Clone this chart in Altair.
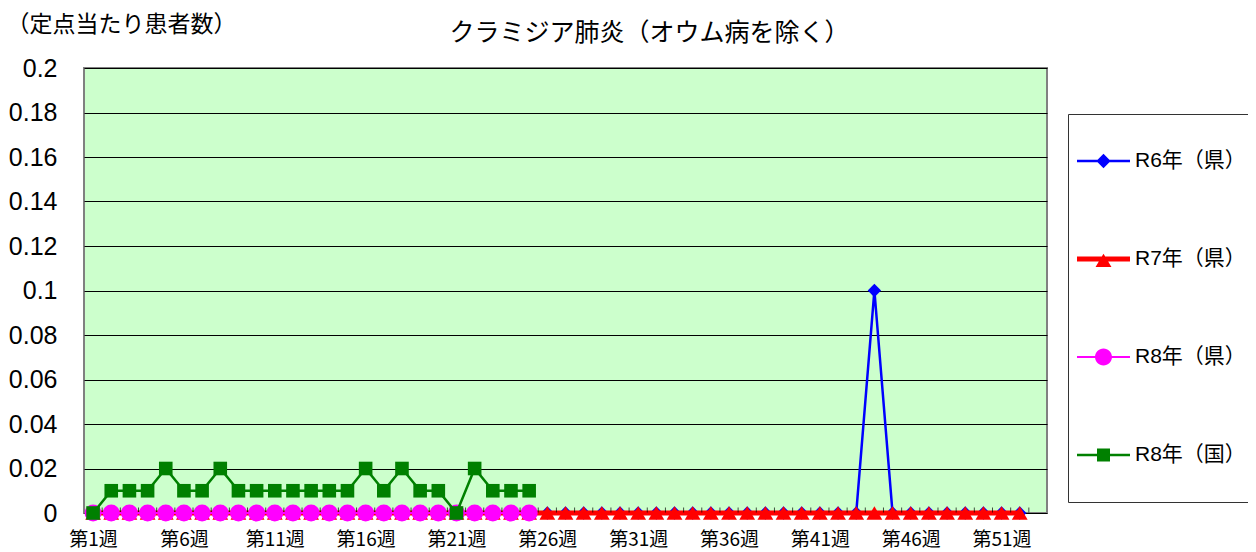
import altair as alt
import pandas as pd

# ---- data ----
weeks = list(range(1, 53))
week_tick_labels = [1, 6, 11, 16, 21, 26, 31, 36, 41, 46, 51]
y_ticks = [0, 0.02, 0.04, 0.06, 0.08, 0.1, 0.12, 0.14, 0.16, 0.18, 0.2]

series_names = ["R6年（県）", "R7年（県）", "R8年（県）", "R8年（国）"]
series_colors = ["#0000FF", "#FF0000", "#FF00FF", "#008000"]

r6_ken = [0, 0, 0, 0, 0, 0, 0, 0, 0, 0,
          0, 0, 0, 0, 0, 0, 0, 0, 0, 0,
          0, 0, 0, 0, 0, 0, 0, 0, 0, 0,
          0, 0, 0, 0, 0, 0, 0, 0, 0, 0,
          0, 0, 0, 0.1, 0, 0, 0, 0, 0, 0,
          0, 0]
r7_ken = [0, 0, 0, 0, 0, 0, 0, 0, 0, 0,
          0, 0, 0, 0, 0, 0, 0, 0, 0, 0,
          0, 0, 0, 0, 0, 0, 0, 0, 0, 0,
          0, 0, 0, 0, 0, 0, 0, 0, 0, 0,
          0, 0, 0, 0, 0, 0, 0, 0, 0, 0,
          0, 0]
r8_ken = [0, 0, 0, 0, 0, 0, 0, 0, 0, 0,
          0, 0, 0, 0, 0, 0, 0, 0, 0, 0,
          0, 0, 0, 0, 0]
r8_kuni = [0, 0.01, 0.01, 0.01, 0.02, 0.01, 0.01, 0.02, 0.01, 0.01,
           0.01, 0.01, 0.01, 0.01, 0.01, 0.02, 0.01, 0.02, 0.01, 0.01,
           0, 0.02, 0.01, 0.01, 0.01]

series_values = [r6_ken, r7_ken, r8_ken, r8_kuni]

rows = []
for name, vals in zip(series_names, series_values):
    for w, v in zip(weeks, vals):
        rows.append({"week": w, "value": v, "series": name})
df = pd.DataFrame(rows)

tick_df = pd.DataFrame({"pos": [w + 0.5 for w in weeks], "zero": [0] * len(weeks)})

# ---- styles ----
marker_shapes = ["diamond", "triangle-up", "circle", "square"]
marker_sizes = [180, 250, 290, 185]
line_widths = [2.5, 5, 2, 2.5]
legend_paths = [
    "M-1,-0.047H1V0.047H-1Z M0,-0.27L0.27,0L0,0.27L-0.27,0Z",
    "M-1,-0.094H1V0.094H-1Z M0,-0.2L0.3,0.3L-0.3,0.3Z",
    "M-1,-0.038H1V0.038H-1Z M-0.32,0A0.32,0.32 0 1,1 0.32,0A0.32,0.32 0 1,1 -0.32,0Z",
    "M-1,-0.047H1V0.047H-1Z M-0.245,-0.245H0.245V0.245H-0.245Z",
]

LATIN = "Liberation Sans, Noto Sans CJK JP"
CJK = "Noto Sans CJK JP"

x_scale = alt.Scale(domain=[0.5, 53.5], nice=False, zero=False)
y_scale = alt.Scale(domain=[0, 0.2], nice=False)

x_enc = alt.X(
    "week:Q",
    scale=x_scale,
    axis=alt.Axis(
        values=week_tick_labels,
        labelExpr="'第' + datum.value + '週'",
        title=None,
        ticks=False,
        domain=False,
        grid=False,
        labelFont=CJK,
        labelFontSize=19,
        labelColor="#000",
        labelBaseline="top",
        labelPadding=17,
        labelFlush=False,
    ),
)
y_enc = alt.Y(
    "value:Q",
    scale=y_scale,
    axis=alt.Axis(
        values=y_ticks,
        format="~g",
        title="（定点当たり患者数）",
        titleAngle=0,
        titleX=-78,
        titleY=-44,
        titleAlign="left",
        titleBaseline="middle",
        titleFont=CJK,
        titleFontSize=23,
        titleFontWeight="normal",
        titleColor="#000",
        titleLimit=300,
        ticks=False,
        domain=False,
        grid=True,
        gridColor="#000",
        gridWidth=1,
        labelFont=LATIN,
        labelFontSize=25,
        labelColor="#000",
        labelPadding=27,
    ),
)

legend_def = alt.Legend(
    title=None,
    orient="none",
    legendX=984,
    legendY=46,
    padding=9,
    strokeColor="#333",
    fillColor="#FFFFFF",
    symbolSize=2809,
    symbolStrokeWidth=0,
    symbolOpacity=1,
    labelFont=LATIN,
    labelFontSize=21,
    labelColor="#000",
    labelOffset=5,
    clipHeight=76,
    rowPadding=22,
)

ticks = alt.Chart(tick_df).mark_tick(
    orient="vertical", size=5, thickness=1, color="#000", yOffset=-3
).encode(
    x=alt.X("pos:Q", scale=x_scale),
    y=alt.Y("zero:Q", scale=y_scale),
)

layers = []
for name, color, shape, size, lw in zip(series_names, series_colors, marker_shapes, marker_sizes, line_widths):
    base = alt.Chart(df).transform_filter(alt.datum.series == name)
    layers.append(base.mark_line(color=color, strokeWidth=lw).encode(x=x_enc, y=y_enc))
    if name == series_names[1]:
        layers.append(ticks)
    layers.append(
        base.mark_point(shape=shape, filled=True, color=color, size=size, opacity=1).encode(x=x_enc, y=y_enc)
    )

legend_layer = alt.Chart(df).mark_point(filled=True, opacity=0).encode(
    x=x_enc,
    y=y_enc,
    color=alt.Color(
        "series:N",
        scale=alt.Scale(domain=series_names, range=series_colors),
        legend=legend_def,
    ),
    shape=alt.Shape(
        "series:N",
        scale=alt.Scale(domain=series_names, range=legend_paths),
        legend=legend_def,
    ),
)
layers.append(legend_layer)

chart = alt.layer(*layers).properties(
    width=963,
    height=445,
    background="#FFFFFF",
    padding={"left": 76, "top": 60, "right": 201, "bottom": 40},
    autosize=alt.AutoSizeParams(type="none"),
    title=alt.TitleParams(
        text="クラミジア肺炎（オウム病を除く）",
        font=CJK,
        fontSize=25,
        fontWeight="normal",
        color="#000",
        anchor="middle",
        frame="group",
        baseline="middle",
        offset=-45,
        dx=84,
    ),
).configure_view(
    fill="#CCFFCC", stroke="#808080", strokeWidth=2
)

chart.save("out.html", embed_options={"renderer": "svg", "actions": False})
